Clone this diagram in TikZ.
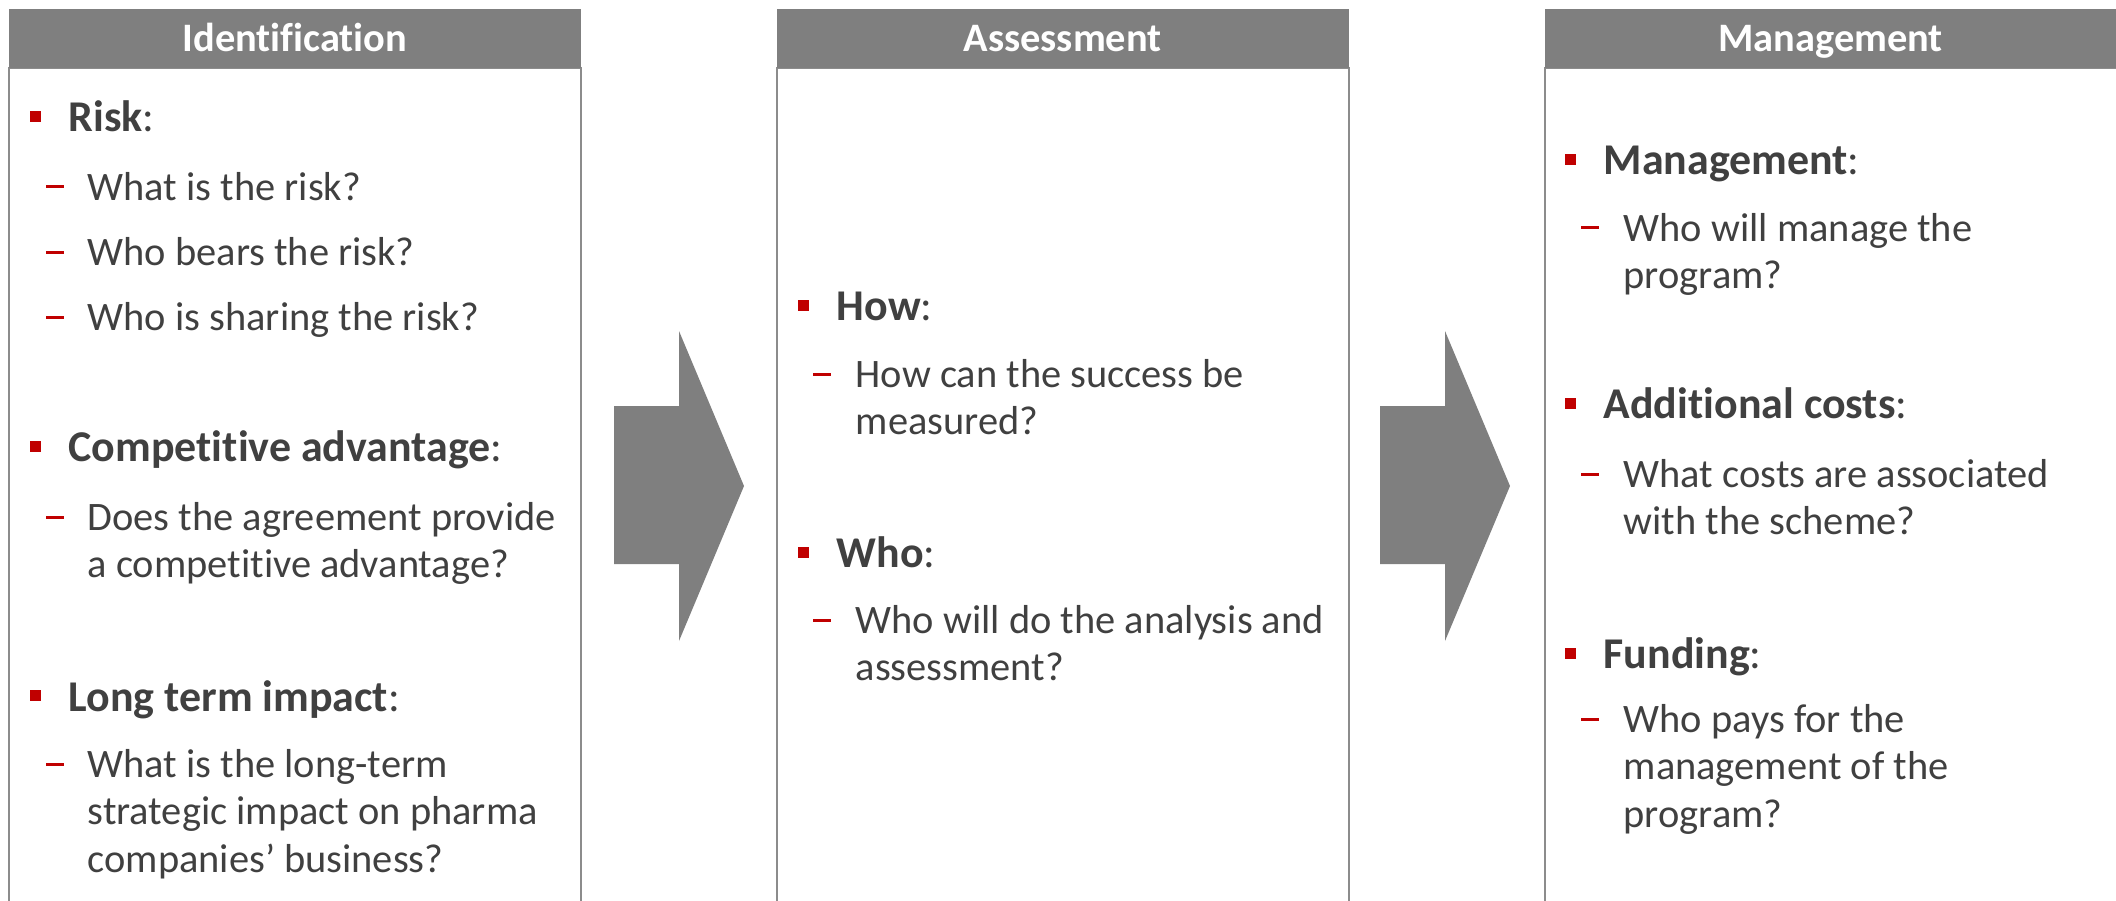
\documentclass[tikz,border=0pt]{standalone}
\usepackage{fontspec}
\setmainfont{Carlito}[Ligatures=NoCommon]

\definecolor{headgray}{HTML}{7F7F7F}
\definecolor{framegray}{HTML}{8C8C8C}
\definecolor{markred}{HTML}{C00000}
\definecolor{txtgray}{HTML}{404040}

\begin{document}
\begin{tikzpicture}[
    head/.style={
        fill=headgray,
        text=white,
        font=\fontsize{11.5}{13}\selectfont\bfseries,
        minimum width=5.72cm,
        minimum height=0.59cm,
        text height=0.83em,
        text depth=0.1em,
        inner sep=0,
        anchor=north west
    },
    column/.style={
        draw=framegray,
        line width=0.6pt,
        minimum width=5.72cm,
        minimum height=8.6cm,
        inner sep=0,
        anchor=north west
    },
    bullet/.style={
        fill=markred,
        minimum size=0.11cm,
        inner sep=0
    },
    subdash/.style={
        fill=markred,
        minimum width=0.18cm,
        minimum height=0.03cm,
        inner sep=0
    },
    item/.style={
        anchor=base west,
        text=txtgray,
        inner sep=0,
        font=\fontsize{12.5}{13.6}\selectfont
    },
    subitem/.style={
        item,
        font=\fontsize{11.5}{13.6}\selectfont,
        text width=5.2cm,
        align=flush left
    }
]
    \useasboundingbox (0,0) rectangle (21.16,-9.01);

    % Spalten
    \node[column] (identbox) at (0.08,-0.67) {};
    \node[column] (assessbox) at (7.76,-0.67) {};
    \node[column] (managebox) at (15.44,-0.67) {};

    \node[head] (ident) at (0.08,-0.08) {Identification};
    \node[head] (assess) at (7.76,-0.08) {Assessment};
    \node[head] (manage) at (15.44,-0.08) {Management};

    % Blockpfeile
    \fill[headgray] (6.14,-4.06) -- (6.79,-4.06) -- (6.79,-3.31) --
        (7.44,-4.86) -- (6.79,-6.41) -- (6.79,-5.64) -- (6.14,-5.64) -- cycle;
    \fill[headgray] (13.80,-4.06) -- (14.45,-4.06) -- (14.45,-3.31) --
        (15.10,-4.86) -- (14.45,-6.41) -- (14.45,-5.64) -- (13.80,-5.64) -- cycle;

    % Identification
    \node[bullet] (riskbul) at (0.35,-1.17) {};
    \node[item] (risk) at (0.68,-1.32) {\textbf{Risk}:};
    \node[subdash] (riskd1) at (0.55,-1.87) {};
    \node[subitem] (riska) at (0.87,-2.00) {What is the risk?};
    \node[subdash] (riskd2) at (0.55,-2.52) {};
    \node[subitem] (riskb) at (0.87,-2.65) {Who bears the risk?};
    \node[subdash] (riskd3) at (0.55,-3.17) {};
    \node[subitem] (riskc) at (0.87,-3.30) {Who is sharing the risk?};

    \node[bullet] (compbul) at (0.35,-4.46) {};
    \node[item] (comp) at (0.68,-4.61) {\textbf{Competitive advantage}:};
    \node[subdash] (compd) at (0.55,-5.17) {};
    \node[subitem] (compa) at (0.87,-5.30)
        {Does the agreement provide\\a competitive advantage?};

    \node[bullet] (longbul) at (0.35,-6.95) {};
    \node[item] (long) at (0.68,-7.11) {\textbf{Long term impact}:};
    \node[subdash] (longd) at (0.55,-7.64) {};
    \node[subitem] (longa) at (0.87,-7.77)
        {What is the long-term\\strategic impact on pharma\\companies’ business?};

    % Assessment
    \node[bullet] (howbul) at (8.03,-3.05) {};
    \node[item] (how) at (8.36,-3.20) {\textbf{How}:};
    \node[subdash] (howd) at (8.22,-3.74) {};
    \node[subitem] (howa) at (8.55,-3.87)
        {How can the success be\\measured?};

    \node[bullet] (whobul) at (8.03,-5.52) {};
    \node[item] (who) at (8.36,-5.67) {\textbf{Who}:};
    \node[subdash] (whod) at (8.22,-6.20) {};
    \node[subitem] (whoa) at (8.55,-6.33)
        {Who will do the analysis and\\assessment?};

    % Management
    \node[bullet] (mgmtbul) at (15.70,-1.60) {};
    \node[item] (mgmt) at (16.03,-1.75) {\textbf{Management}:};
    \node[subdash] (mgmtd) at (15.90,-2.28) {};
    \node[subitem] (mgmta) at (16.23,-2.41)
        {Who will manage the\\program?};

    \node[bullet] (costbul) at (15.70,-4.03) {};
    \node[item] (cost) at (16.03,-4.18) {\textbf{Additional costs}:};
    \node[subdash] (costd) at (15.90,-4.74) {};
    \node[subitem] (costa) at (16.23,-4.87)
        {What costs are associated\\with the scheme?};

    \node[bullet] (fundbul) at (15.70,-6.53) {};
    \node[item] (fund) at (16.03,-6.68) {\textbf{Funding}:};
    \node[subdash] (fundd) at (15.90,-7.19) {};
    \node[subitem] (funda) at (16.23,-7.32)
        {Who pays for the\\management of the\\program?};
\end{tikzpicture}
\end{document}
